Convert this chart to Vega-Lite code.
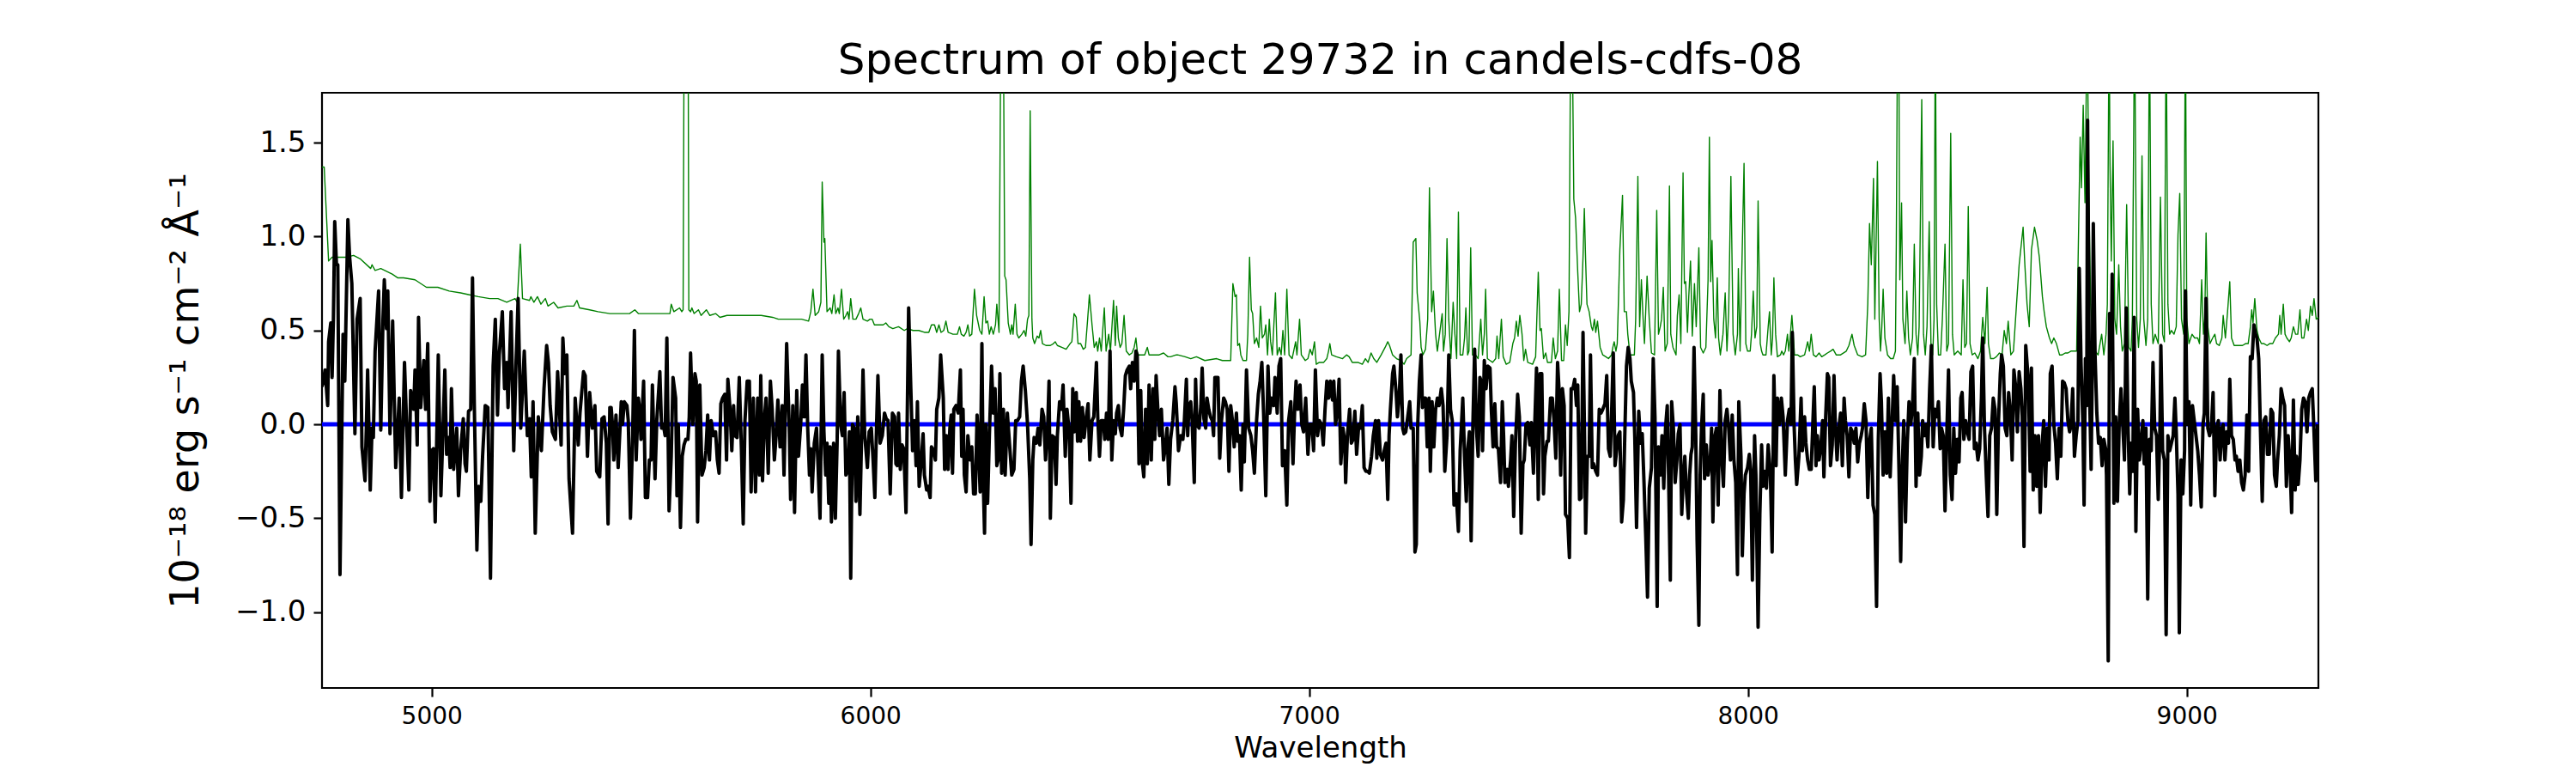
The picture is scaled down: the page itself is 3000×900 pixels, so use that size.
{
  "$schema": "https://vega.github.io/schema/vega-lite/v6.json",
  "width": 2325,
  "height": 693,
  "autosize": {"type": "none"},
  "padding": {"left": 375, "top": 108, "right": 300, "bottom": 99},
  "background": "white",
  "title": {
    "text": "Spectrum of object 29732 in candels-cdfs-08",
    "font": "DejaVu Sans",
    "fontSize": 50,
    "fontWeight": "normal",
    "color": "black",
    "anchor": "middle",
    "frame": "group",
    "baseline": "alphabetic",
    "offset": 27,
    "dy": 55
  },
  "config": {
    "font": "DejaVu Sans",
    "view": {"stroke": "black", "strokeWidth": 2.2},
    "axis": {
      "labelFont": "DejaVu Sans",
      "titleFont": "DejaVu Sans",
      "labelColor": "black",
      "titleColor": "black",
      "titleFontWeight": "normal",
      "tickColor": "black",
      "tickSize": 10,
      "tickWidth": 2.2,
      "domain": false,
      "grid": false,
      "labelPadding": 9,
      "labelFlush": false,
      "labelOverlap": false
    }
  },
  "datasets": {
    "zero": [{"w": 4750, "f": 0}, {"w": 9300, "f": 0}],
    "noise": [
      {"w":4750,"f":1.37},{"w":4755,"f":1.37},{"w":4765,"f":0.87},{"w":4773,"f":0.89},{"w":4786,"f":0.89},{"w":4805,"f":0.89},{"w":4822,"f":0.9},{"w":4838,"f":0.88},{"w":4861,"f":0.83},{"w":4864,"f":0.85},{"w":4871,"f":0.82},{"w":4884,"f":0.83},{"w":4910,"f":0.8},{"w":4923,"f":0.78},{"w":4936,"f":0.78},{"w":4962,"f":0.77},{"w":4988,"f":0.73},{"w":5014,"f":0.73},{"w":5040,"f":0.71},{"w":5066,"f":0.7},{"w":5086,"f":0.69},{"w":5106,"f":0.68},{"w":5132,"f":0.67},{"w":5151,"f":0.67},{"w":5171,"f":0.65},{"w":5190,"f":0.67},{"w":5195,"f":0.65},{"w":5202,"f":0.96},{"w":5207,"f":0.67},{"w":5223,"f":0.66},{"w":5226,"f":0.68},{"w":5233,"f":0.65},{"w":5241,"f":0.68},{"w":5249,"f":0.64},{"w":5259,"f":0.67},{"w":5265,"f":0.63},{"w":5278,"f":0.65},{"w":5288,"f":0.62},{"w":5308,"f":0.63},{"w":5324,"f":0.63},{"w":5331,"f":0.66},{"w":5337,"f":0.62},{"w":5360,"f":0.61},{"w":5379,"f":0.6},{"w":5406,"f":0.59},
      {"w":5425,"f":0.59},{"w":5451,"f":0.59},{"w":5463,"f":0.61},{"w":5471,"f":0.59},{"w":5490,"f":0.59},{"w":5516,"f":0.59},{"w":5543,"f":0.59},{"w":5546,"f":0.64},{"w":5552,"f":0.6},{"w":5565,"f":0.62},{"w":5570,"f":0.6},{"w":5573,"f":0.61},{"w":5576,"f":2.6},{"w":5580,"f":3.0},{"w":5584,"f":2.6},{"w":5586,"f":0.61},{"w":5590,"f":0.6},{"w":5593,"f":0.62},{"w":5598,"f":0.59},{"w":5608,"f":0.61},{"w":5614,"f":0.58},{"w":5626,"f":0.61},{"w":5634,"f":0.58},{"w":5647,"f":0.59},{"w":5657,"f":0.57},{"w":5673,"f":0.58},{"w":5699,"f":0.58},{"w":5725,"f":0.58},{"w":5751,"f":0.58},{"w":5777,"f":0.57},{"w":5790,"f":0.56},{"w":5817,"f":0.56},{"w":5843,"f":0.56},{"w":5859,"f":0.55},{"w":5864,"f":0.6},{"w":5869,"f":0.72},{"w":5874,"f":0.58},{"w":5882,"f":0.6},{"w":5887,"f":0.65},{"w":5890,"f":1.29},{"w":5894,"f":0.97},{"w":5896,"f":0.99},{"w":5901,"f":0.6},{"w":5908,"f":0.62},{"w":5912,"f":0.59},{"w":5917,"f":0.69},{"w":5921,"f":0.59},{"w":5926,"f":0.62},{"w":5929,"f":0.59},{"w":5934,"f":0.72},{"w":5939,"f":0.56},{"w":5944,"f":0.58},{"w":5948,"f":0.6},{"w":5951,"f":0.56},{"w":5955,"f":0.67},{"w":5960,"f":0.56},{"w":5967,"f":0.56},{"w":5973,"f":0.59},{"w":5978,"f":0.62},{"w":5983,"f":0.56},{"w":5993,"f":0.55},{"w":5999,"f":0.56},{"w":6004,"f":0.56},{"w":6009,"f":0.53},{"w":6019,"f":0.53},{"w":6029,"f":0.53},{"w":6035,"f":0.54},{"w":6042,"f":0.52},{"w":6051,"f":0.51},
      {"w":6064,"f":0.52},{"w":6077,"f":0.5},{"w":6084,"f":0.51},{"w":6097,"f":0.5},{"w":6110,"f":0.5},{"w":6123,"f":0.49},{"w":6133,"f":0.49},{"w":6139,"f":0.53},{"w":6146,"f":0.53},{"w":6151,"f":0.49},{"w":6156,"f":0.53},{"w":6161,"f":0.49},{"w":6167,"f":0.5},{"w":6172,"f":0.55},{"w":6177,"f":0.49},{"w":6188,"f":0.48},{"w":6198,"f":0.48},{"w":6203,"f":0.52},{"w":6207,"f":0.48},{"w":6213,"f":0.47},{"w":6218,"f":0.49},{"w":6222,"f":0.53},{"w":6226,"f":0.47},{"w":6231,"f":0.48},{"w":6237,"f":0.72},{"w":6242,"f":0.58},{"w":6249,"f":0.5},{"w":6254,"f":0.48},{"w":6259,"f":0.68},{"w":6263,"f":0.54},{"w":6267,"f":0.55},{"w":6271,"f":0.48},{"w":6275,"f":0.52},{"w":6280,"f":0.48},{"w":6285,"f":0.53},{"w":6288,"f":0.64},{"w":6293,"f":0.49},{"w":6297,"f":2.1},{"w":6300,"f":2.6},{"w":6303,"f":2.1},{"w":6306,"f":0.79},{"w":6309,"f":0.77},{"w":6314,"f":0.54},{"w":6319,"f":0.48},{"w":6322,"f":0.53},{"w":6325,"f":0.48},{"w":6330,"f":0.64},{"w":6334,"f":0.48},{"w":6338,"f":0.46},{"w":6345,"f":0.48},{"w":6350,"f":0.5},{"w":6354,"f":0.47},{"w":6358,"f":0.56},{"w":6361,"f":0.58},{"w":6364,"f":1.67},{"w":6368,"f":0.56},{"w":6370,"f":0.46},{"w":6374,"f":0.43},{"w":6380,"f":0.47},{"w":6384,"f":0.46},{"w":6388,"f":0.5},{"w":6392,"f":0.43},{"w":6400,"f":0.42},{"w":6410,"f":0.42},{"w":6417,"f":0.43},{"w":6421,"f":0.44},{"w":6426,"f":0.42},{"w":6436,"f":0.41},{"w":6446,"f":0.4},{"w":6455,"f":0.43},{"w":6459,"f":0.44},{"w":6464,"f":0.59},{"w":6469,"f":0.57},{"w":6473,"f":0.43},{"w":6479,"f":0.43},{"w":6485,"f":0.4},{"w":6490,"f":0.41},{"w":6495,"f":0.56},{"w":6499,"f":0.69},{"w":6505,"f":0.53},{"w":6510,"f":0.41},{"w":6515,"f":0.44},{"w":6518,"f":0.39},{"w":6522,"f":0.46},{"w":6526,"f":0.39},{"w":6533,"f":0.62},{"w":6537,"f":0.39},{"w":6543,"f":0.48},{"w":6547,"f":0.39},{"w":6554,"f":0.66},{"w":6558,"f":0.42},{"w":6561,"f":0.63},{"w":6565,"f":0.46},{"w":6569,"f":0.41},{"w":6573,"f":0.43},{"w":6578,"f":0.58},{"w":6583,"f":0.39},{"w":6590,"f":0.37},{"w":6596,"f":0.38},{"w":6601,"f":0.41},{"w":6605,"f":0.46},{"w":6609,"f":0.37},{"w":6616,"f":0.37},{"w":6625,"f":0.37},{"w":6631,"f":0.41},{"w":6635,"f":0.37},{"w":6645,"f":0.37},{"w":6658,"f":0.37},{"w":6668,"f":0.38},{"w":6678,"f":0.36},{"w":6684,"f":0.36},{"w":6697,"f":0.37},
      {"w":6700,"f":0.37},{"w":6717,"f":0.36},{"w":6730,"f":0.35},{"w":6743,"f":0.36},{"w":6762,"f":0.34},{"w":6789,"f":0.35},{"w":6802,"f":0.34},{"w":6821,"f":0.34},{"w":6826,"f":0.75},{"w":6831,"f":0.68},{"w":6834,"f":0.69},{"w":6837,"f":0.42},{"w":6841,"f":0.43},{"w":6844,"f":0.37},{"w":6849,"f":0.34},{"w":6857,"f":0.34},{"w":6860,"f":0.48},{"w":6864,"f":0.89},{"w":6868,"f":0.61},{"w":6871,"f":0.59},{"w":6875,"f":0.43},{"w":6880,"f":0.46},{"w":6885,"f":0.41},{"w":6889,"f":0.63},{"w":6893,"f":0.46},{"w":6898,"f":0.48},{"w":6901,"f":0.53},{"w":6905,"f":0.37},{"w":6909,"f":0.56},{"w":6912,"f":0.44},{"w":6916,"f":0.37},{"w":6923,"f":0.7},{"w":6927,"f":0.37},{"w":6932,"f":0.41},{"w":6936,"f":0.37},{"w":6940,"f":0.5},{"w":6944,"f":0.37},{"w":6949,"f":0.72},{"w":6954,"f":0.37},{"w":6961,"f":0.35},{"w":6969,"f":0.44},{"w":6972,"f":0.37},{"w":6978,"f":0.56},{"w":6982,"f":0.37},{"w":6991,"f":0.34},{"w":6997,"f":0.35},{"w":7002,"f":0.4},{"w":7007,"f":0.37},{"w":7012,"f":0.44},{"w":7016,"f":0.32},{"w":7023,"f":0.33},{"w":7033,"f":0.33},{"w":7040,"f":0.35},{"w":7044,"f":0.39},{"w":7047,"f":0.43},{"w":7051,"f":0.37},{"w":7062,"f":0.36},{"w":7076,"f":0.35},{"w":7085,"f":0.37},{"w":7091,"f":0.36},{"w":7098,"f":0.33},{"w":7111,"f":0.33},{"w":7121,"f":0.32},{"w":7128,"f":0.35},{"w":7134,"f":0.33},{"w":7141,"f":0.38},{"w":7147,"f":0.35},{"w":7154,"f":0.33},{"w":7164,"f":0.37},{"w":7173,"f":0.41},{"w":7179,"f":0.44},{"w":7183,"f":0.42},{"w":7190,"f":0.37},{"w":7199,"f":0.35},{"w":7209,"f":0.34},{"w":7216,"f":0.32},{"w":7222,"f":0.35},{"w":7232,"f":0.37},{"w":7237,"f":0.97},{"w":7243,"f":0.99},{"w":7246,"f":0.7},{"w":7252,"f":0.55},{"w":7255,"f":0.41},{"w":7259,"f":0.37},{"w":7265,"f":0.4},{"w":7270,"f":0.56},{"w":7274,"f":1.26},{"w":7279,"f":0.6},{"w":7283,"f":0.71},{"w":7288,"f":0.48},{"w":7292,"f":0.39},{"w":7297,"f":0.48},{"w":7303,"f":0.59},{"w":7306,"f":0.39},{"w":7310,"f":0.48},{"w":7314,"f":0.99},{"w":7318,"f":0.56},{"w":7323,"f":0.35},{"w":7328,"f":0.65},{"w":7332,"f":0.48},{"w":7336,"f":0.35},{"w":7340,"f":1.13},
      {"w":7344,"f":0.37},{"w":7350,"f":0.37},{"w":7354,"f":0.46},{"w":7357,"f":0.62},{"w":7361,"f":0.37},{"w":7364,"f":0.39},{"w":7368,"f":0.94},{"w":7372,"f":0.37},{"w":7379,"f":0.37},{"w":7385,"f":0.35},{"w":7391,"f":0.56},{"w":7395,"f":0.37},{"w":7399,"f":0.48},{"w":7402,"f":0.72},{"w":7406,"f":0.35},{"w":7412,"f":0.34},{"w":7418,"f":0.33},{"w":7425,"f":0.35},{"w":7428,"f":0.47},{"w":7432,"f":0.35},{"w":7438,"f":0.56},{"w":7442,"f":0.36},{"w":7449,"f":0.32},{"w":7457,"f":0.33},{"w":7464,"f":0.43},{"w":7468,"f":0.46},{"w":7472,"f":0.55},{"w":7476,"f":0.47},{"w":7480,"f":0.58},{"w":7485,"f":0.48},{"w":7489,"f":0.34},{"w":7493,"f":0.4},{"w":7498,"f":0.33},{"w":7509,"f":0.32},{"w":7516,"f":0.36},{"w":7522,"f":0.81},{"w":7526,"f":0.5},{"w":7529,"f":0.51},{"w":7534,"f":0.35},{"w":7539,"f":0.38},{"w":7543,"f":0.33},{"w":7552,"f":0.33},{"w":7556,"f":0.46},{"w":7561,"f":0.35},{"w":7566,"f":0.39},{"w":7570,"f":0.72},{"w":7575,"f":0.34},{"w":7580,"f":0.34},{"w":7584,"f":0.53},{"w":7588,"f":0.42},{"w":7592,"f":0.6},{"w":7596,"f":2.2},{"w":7599,"f":2.2},{"w":7603,"f":1.2},{"w":7607,"f":1.1},{"w":7612,"f":0.81},{"w":7616,"f":0.6},{"w":7620,"f":0.64},{"w":7624,"f":0.89},{"w":7627,"f":1.15},{"w":7630,"f":0.87},{"w":7633,"f":0.64},{"w":7638,"f":0.6},{"w":7643,"f":0.52},{"w":7646,"f":0.5},{"w":7650,"f":0.56},{"w":7653,"f":0.49},{"w":7657,"f":0.55},{"w":7663,"f":0.41},{"w":7669,"f":0.37},{"w":7676,"f":0.36},{"w":7682,"f":0.35},{"w":7689,"f":0.37},{"w":7692,"f":0.41},{"w":7695,"f":0.44},{"w":7699,"f":0.39},{"w":7702,"f":0.43},{"w":7708,"f":0.93},{"w":7714,"f":1.22},{"w":7718,"f":0.6},{"w":7723,"f":0.6},{"w":7726,"f":0.48},{"w":7731,"f":0.37},{"w":7741,"f":0.37},{"w":7744,"f":0.56},{"w":7749,"f":1.32},{"w":7753,"f":0.52},{"w":7757,"f":0.77},{"w":7761,"f":0.56},{"w":7764,"f":0.43},{"w":7770,"f":0.79},{"w":7775,"f":0.56},{"w":7780,"f":0.38},{"w":7787,"f":0.37},{"w":7792,"f":1.14},{"w":7796,"f":0.48},{"w":7800,"f":0.52},{"w":7803,"f":0.56},{"w":7807,"f":0.73},{"w":7811,"f":0.39},{"w":7816,"f":0.43},{"w":7821,"f":1.27},{"w":7824,"f":0.48},{"w":7829,"f":0.41},{"w":7836,"f":0.37},{"w":7839,"f":0.58},{"w":7843,"f":0.69},{"w":7847,"f":0.43},{"w":7852,"f":1.34},{"w":7855,"f":0.75},{"w":7858,"f":0.76},{"w":7862,"f":0.49},{"w":7865,"f":0.68},{"w":7869,"f":0.87},{"w":7873,"f":0.47},{"w":7878,"f":0.75},{"w":7882,"f":0.52},{"w":7888,"f":0.94},{"w":7892,"f":0.41},{"w":7898,"f":0.38},{"w":7904,"f":0.41},{"w":7909,"f":0.77},{"w":7912,"f":1.53},{"w":7915,"f":0.76},{"w":7918,"f":0.98},{"w":7922,"f":0.56},{"w":7926,"f":0.46},{"w":7930,"f":0.78},{"w":7933,"f":0.46},{"w":7937,"f":0.37},{"w":7943,"f":0.48},{"w":7948,"f":0.7},{"w":7952,"f":0.39},{"w":7956,"f":0.6},{"w":7961,"f":1.32},{"w":7966,"f":0.48},{"w":7971,"f":0.37},{"w":7976,"f":0.48},{"w":7978,"f":0.83},{"w":7982,"f":0.39},
      {"w":7991,"f":1.39},{"w":7995,"f":0.43},{"w":7999,"f":0.39},{"w":8005,"f":0.39},{"w":8008,"f":0.48},{"w":8012,"f":0.71},{"w":8016,"f":0.46},{"w":8020,"f":0.52},{"w":8023,"f":1.19},{"w":8028,"f":0.43},{"w":8031,"f":0.39},{"w":8034,"f":0.37},{"w":8041,"f":0.37},{"w":8046,"f":0.52},{"w":8049,"f":0.6},{"w":8053,"f":0.37},{"w":8056,"f":0.46},{"w":8059,"f":0.78},{"w":8063,"f":0.48},{"w":8067,"f":0.36},{"w":8074,"f":0.37},{"w":8077,"f":0.39},{"w":8081,"f":0.37},{"w":8085,"f":0.39},{"w":8090,"f":0.48},{"w":8093,"f":0.39},{"w":8096,"f":0.46},{"w":8100,"f":0.58},{"w":8103,"f":0.48},{"w":8106,"f":0.37},{"w":8113,"f":0.37},{"w":8119,"f":0.36},{"w":8129,"f":0.37},{"w":8136,"f":0.44},{"w":8140,"f":0.39},{"w":8144,"f":0.48},{"w":8149,"f":0.37},{"w":8155,"f":0.36},{"w":8162,"f":0.38},{"w":8168,"f":0.36},{"w":8175,"f":0.37},{"w":8181,"f":0.38},{"w":8188,"f":0.39},{"w":8194,"f":0.4},{"w":8201,"f":0.37},{"w":8211,"f":0.37},{"w":8224,"f":0.39},{"w":8230,"f":0.42},{"w":8237,"f":0.48},{"w":8242,"f":0.42},{"w":8250,"f":0.37},{"w":8260,"f":0.36},{"w":8268,"f":0.37},{"w":8273,"f":0.64},{"w":8277,"f":1.07},{"w":8281,"f":0.85},{"w":8286,"f":1.31},{"w":8289,"f":0.56},{"w":8292,"f":0.97},{"w":8295,"f":1.4},{"w":8299,"f":0.56},{"w":8302,"f":0.39},{"w":8305,"f":0.52},{"w":8308,"f":0.72},{"w":8312,"f":0.46},{"w":8318,"f":0.37},{"w":8325,"f":0.35},{"w":8331,"f":0.35},{"w":8336,"f":0.39},{"w":8338,"f":0.97},{"w":8341,"f":2.2},{"w":8344,"f":1.9},{"w":8346,"f":0.77},{"w":8350,"f":1.18},{"w":8353,"f":0.56},{"w":8358,"f":0.43},{"w":8362,"f":0.71},{"w":8366,"f":0.46},{"w":8370,"f":0.37},{"w":8375,"f":0.46},{"w":8379,"f":0.96},{"w":8383,"f":0.48},{"w":8387,"f":0.37},{"w":8390,"f":0.52},{"w":8396,"f":1.73},{"w":8400,"f":0.48},{"w":8404,"f":0.37},{"w":8408,"f":0.52},{"w":8413,"f":1.08},{"w":8417,"f":0.43},{"w":8421,"f":0.37},{"w":8424,"f":0.56},{"w":8427,"f":2.2},{"w":8430,"f":0.64},{"w":8434,"f":0.37},{"w":8439,"f":0.37},{"w":8443,"f":0.56},{"w":8449,"f":0.96},{"w":8453,"f":0.39},{"w":8457,"f":0.43},{"w":8462,"f":1.55},{"w":8466,"f":0.48},{"w":8470,"f":0.37},{"w":8478,"f":0.39},{"w":8486,"f":0.37},{"w":8490,"f":0.77},{"w":8494,"f":0.41},{"w":8498,"f":0.43},{"w":8502,"f":1.16},{"w":8506,"f":0.43},{"w":8511,"f":0.37},{"w":8517,"f":0.38},{"w":8524,"f":0.35},{"w":8530,"f":0.39},{"w":8535,"f":0.57},{"w":8540,"f":0.43},{"w":8545,"f":0.73},{"w":8548,"f":0.43},{"w":8553,"f":0.35},{"w":8560,"f":0.35},{"w":8566,"f":0.36},{"w":8573,"f":0.38},{"w":8579,"f":0.37},{"w":8584,"f":0.5},{"w":8589,"f":0.43},{"w":8593,"f":0.55},{"w":8599,"f":0.37},{"w":8605,"f":0.39},{"w":8612,"f":0.64},{"w":8618,"f":0.85},{"w":8627,"f":1.05},
      {"w":8631,"f":0.85},{"w":8636,"f":0.64},{"w":8641,"f":0.52},{"w":8646,"f":0.93},{"w":8653,"f":1.05},{"w":8659,"f":0.98},{"w":8664,"f":0.89},{"w":8671,"f":0.68},{"w":8675,"f":0.6},{"w":8680,"f":0.52},{"w":8687,"f":0.46},{"w":8692,"f":0.43},{"w":8697,"f":0.46},{"w":8703,"f":0.43},{"w":8710,"f":0.37},{"w":8716,"f":0.37},{"w":8723,"f":0.38},{"w":8729,"f":0.38},{"w":8736,"f":0.39},{"w":8742,"f":0.39},{"w":8749,"f":0.39},{"w":8753,"f":0.97},{"w":8757,"f":1.53},{"w":8760,"f":1.26},{"w":8764,"f":1.7},{"w":8768,"f":1.18},{"w":8773,"f":2.2},{"w":8777,"f":1.18},{"w":8781,"f":0.64},{"w":8786,"f":0.43},{"w":8791,"f":0.39},{"w":8798,"f":0.37},{"w":8806,"f":0.48},{"w":8811,"f":0.37},{"w":8816,"f":0.48},{"w":8819,"f":0.64},{"w":8823,"f":2.2},{"w":8825,"f":1.39},{"w":8828,"f":0.87},{"w":8832,"f":1.51},{"w":8836,"f":0.56},{"w":8840,"f":0.48},{"w":8845,"f":0.85},{"w":8849,"f":0.52},{"w":8853,"f":0.39},{"w":8858,"f":0.43},{"w":8863,"f":1.17},{"w":8868,"f":0.41},{"w":8873,"f":0.39},{"w":8876,"f":0.56},{"w":8881,"f":2.2},{"w":8886,"f":0.56},{"w":8890,"f":0.41},{"w":8894,"f":0.56},{"w":8898,"f":1.43},{"w":8902,"f":0.56},{"w":8907,"f":0.42},{"w":8911,"f":0.56},{"w":8915,"f":2.2},{"w":8919,"f":0.64},{"w":8923,"f":0.43},{"w":8928,"f":0.48},{"w":8935,"f":0.43},{"w":8940,"f":1.21},{"w":8945,"f":0.48},{"w":8949,"f":0.44},{"w":8953,"f":2.2},{"w":8957,"f":0.64},{"w":8961,"f":0.48},{"w":8965,"f":0.5},{"w":8971,"f":0.48},{"w":8976,"f":0.52},{"w":8980,"f":1.01},{"w":8984,"f":1.23},{"w":8988,"f":0.56},{"w":8993,"f":0.48},{"w":8997,"f":2.2},{"w":9000,"f":0.56},{"w":9005,"f":0.43},{"w":9012,"f":0.48},{"w":9018,"f":0.46},{"w":9025,"f":0.46},{"w":9029,"f":0.43},{"w":9034,"f":0.77},{"w":9038,"f":0.48},{"w":9041,"f":0.56},{"w":9044,"f":1.02},{"w":9048,"f":0.52},{"w":9053,"f":0.43},{"w":9059,"f":0.46},{"w":9064,"f":0.48},{"w":9068,"f":0.43},{"w":9074,"f":0.42},{"w":9080,"f":0.46},{"w":9083,"f":0.58},{"w":9088,"f":0.46},{"w":9093,"f":0.6},{"w":9098,"f":0.76},{"w":9102,"f":0.46},{"w":9108,"f":0.42},{"w":9114,"f":0.42},{"w":9121,"f":0.42},{"w":9127,"f":0.42},{"w":9134,"f":0.43},{"w":9140,"f":0.43},{"w":9145,"f":0.52},{"w":9148,"f":0.61},{"w":9151,"f":0.54},{"w":9155,"f":0.67},{"w":9160,"f":0.5},{"w":9164,"f":0.46},{"w":9170,"f":0.43},{"w":9176,"f":0.43},{"w":9183,"f":0.42},{"w":9189,"f":0.43},{"w":9196,"f":0.43},{"w":9202,"f":0.46},{"w":9209,"f":0.48},{"w":9212,"f":0.58},{"w":9215,"f":0.48},{"w":9220,"f":0.64},{"w":9224,"f":0.48},{"w":9228,"f":0.46},{"w":9234,"f":0.44},{"w":9238,"f":0.46},{"w":9243,"f":0.52},{"w":9248,"f":0.48},{"w":9253,"f":0.48},{"w":9258,"f":0.61},{"w":9262,"f":0.46},{"w":9267,"f":0.46},{"w":9273,"f":0.56},{"w":9277,"f":0.5},{"w":9282,"f":0.63},{"w":9286,"f":0.58},{"w":9290,"f":0.67},{"w":9295,"f":0.56},{"w":9300,"f":0.57}
    ],
    "flux": [
      {"w":4750,"f":0.2},{"w":4753,"f":0.23},{"w":4757,"f":0.29},{"w":4763,"f":0.1},{"w":4765,"f":0.44},{"w":4770,"f":0.54},{"w":4773,"f":0.25},{"w":4776,"f":0.56},{"w":4779,"f":1.08},{"w":4783,"f":0.85},{"w":4786,"f":0.85},{"w":4791,"f":-0.8},{"w":4798,"f":0.48},{"w":4802,"f":0.23},{"w":4804,"f":0.48},{"w":4809,"f":1.09},{"w":4813,"f":0.89},{"w":4818,"f":0.75},{"w":4825,"f":-0.05},{"w":4830,"f":0.56},{"w":4837,"f":0.67},{"w":4841,"f":-0.12},{"w":4848,"f":-0.3},{"w":4851,"f":-0.02},{"w":4854,"f":0.29},{"w":4860,"f":-0.35},{"w":4864,"f":-0.02},{"w":4867,"f":-0.07},{"w":4871,"f":0.39},{"w":4879,"f":0.71},{"w":4884,"f":-0.03},{"w":4889,"f":0.56},{"w":4892,"f":0.77},{"w":4897,"f":0.51},{"w":4900,"f":0.71},{"w":4905,"f":-0.05},{"w":4911,"f":0.55},{"w":4918,"f":-0.23},{"w":4926,"f":0.14},{"w":4931,"f":-0.39},{"w":4938,"f":0.33},{"w":4948,"f":-0.35},{"w":4952,"f":0.18},{"w":4959,"f":0.08},{"w":4962,"f":0.29},{"w":4967,"f":-0.11},{"w":4970,"f":0.57},{"w":4975,"f":0.09},{"w":4982,"f":0.34},{"w":4986,"f":0.08},{"w":4991,"f":0.43},{"w":4996,"f":-0.41},{"w":5000,"f":-0.14},{"w":5004,"f":-0.13},{"w":5008,"f":-0.52},{"w":5015,"f":0.37},{"w":5021,"f":-0.38},{"w":5030,"f":0.29},{"w":5034,"f":-0.16},{"w":5039,"f":-0.07},{"w":5042,"f":-0.23},{"w":5045,"f":0.19},{"w":5050,"f":-0.24},{"w":5057,"f":-0.02},{"w":5061,"f":-0.38},{"w":5066,"f":-0.14},{"w":5072,"f":0.03},{"w":5076,"f":-0.21},{"w":5079,"f":-0.25},{"w":5084,"f":0.07},{"w":5089,"f":0.08},{"w":5093,"f":0.78},{"w":5097,"f":0.12},{"w":5103,"f":-0.67},{"w":5107,"f":-0.33},{"w":5112,"f":-0.41},{"w":5116,"f":-0.17},{"w":5122,"f":0.1},{"w":5128,"f":0.09},{"w":5134,"f":-0.82},{"w":5140,"f":0.31},{"w":5145,"f":0.56},{"w":5150,"f":0.05},{"w":5154,"f":0.37},{"w":5161,"f":0.6},{"w":5166,"f":0.19},{"w":5171,"f":0.33},{"w":5174,"f":0.09},{"w":5181,"f":0.6},{"w":5187,"f":-0.14},{"w":5192,"f":0.31},{"w":5197,"f":0.67},{"w":5203,"f":-0.02},{"w":5211,"f":0.39},{"w":5218,"f":-0.06},{"w":5223,"f":0.03},{"w":5227,"f":-0.28},{"w":5231,"f":0.12},{"w":5236,"f":-0.58},{"w":5243,"f":0.04},{"w":5250,"f":-0.14},{"w":5256,"f":0.19},{"w":5262,"f":0.42},{"w":5266,"f":0.33},{"w":5270,"f":0.1},{"w":5275,"f":-0.04},{"w":5282,"f":-0.08},{"w":5287,"f":0.28},{"w":5295,"f":-0.11},{"w":5299,"f":0.46},{"w":5303,"f":0.27},{"w":5308,"f":0.37},{"w":5313,"f":-0.29},{"w":5321,"f":-0.58},{"w":5327,"f":0.14},{"w":5334,"f":-0.11},{"w":5338,"f":0.06},{"w":5346,"f":0.28},{"w":5350,"f":0.26},{"w":5355,"f":-0.17},{"w":5360,"f":0.17},{"w":5366,"f":-0.02},{"w":5372,"f":0.1},{"w":5376,"f":-0.25},{"w":5383,"f":-0.28},{"w":5388,"f":0.03},{"w":5393,"f":0.04},{"w":5398,"f":-0.1},{"w":5402,"f":-0.53},{"w":5406,"f":0.09},
      {"w":5409,"f":0.09},{"w":5412,"f":0},{"w":5415,"f":-0.19},{"w":5420,"f":0.05},{"w":5425,"f":-0.23},{"w":5432,"f":0.12},{"w":5435,"f":0},{"w":5439,"f":0.12},{"w":5445,"f":0.1},{"w":5448,"f":0.02},{"w":5453,"f":-0.5},{"w":5458,"f":-0.06},{"w":5462,"f":0.5},{"w":5466,"f":-0.19},{"w":5471,"f":0.14},{"w":5474,"f":0.08},{"w":5477,"f":-0.08},{"w":5483,"f":0.23},{"w":5487,"f":-0.39},{"w":5492,"f":-0.39},{"w":5496,"f":-0.19},{"w":5500,"f":-0.19},{"w":5503,"f":0.21},{"w":5509,"f":-0.29},{"w":5513,"f":0.02},{"w":5520,"f":0.28},{"w":5524,"f":-0.02},{"w":5528,"f":0},{"w":5532,"f":-0.06},{"w":5536,"f":0.46},{"w":5541,"f":-0.46},{"w":5546,"f":-0.17},{"w":5550,"f":0.25},{"w":5556,"f":0.14},{"w":5559,"f":-0.38},{"w":5562,"f":0},{"w":5567,"f":-0.55},{"w":5571,"f":-0.17},{"w":5575,"f":-0.11},{"w":5579,"f":-0.08},{"w":5584,"f":-0.08},{"w":5587,"f":0.04},{"w":5590,"f":0.38},{"w":5595,"f":0},{"w":5600,"f":0.27},{"w":5603,"f":0.23},{"w":5606,"f":-0.52},{"w":5611,"f":0.21},{"w":5616,"f":-0.27},{"w":5621,"f":-0.23},{"w":5625,"f":-0.14},{"w":5629,"f":0.05},{"w":5633,"f":-0.19},{"w":5637,"f":0.02},{"w":5642,"f":-0.06},{"w":5647,"f":-0.04},{"w":5651,"f":-0.19},{"w":5655,"f":-0.26},{"w":5659,"f":0.11},{"w":5663,"f":0.14},{"w":5668,"f":0.16},{"w":5672,"f":-0.19},{"w":5675,"f":0.24},{"w":5680,"f":0.08},{"w":5684,"f":-0.14},{"w":5688,"f":0.1},{"w":5691,"f":-0.06},{"w":5696,"f":-0.07},{"w":5701,"f":0.25},{"w":5706,"f":-0.14},{"w":5710,"f":-0.53},{"w":5714,"f":0.02},{"w":5719,"f":0.23},{"w":5724,"f":0.23},{"w":5728,"f":-0.36},{"w":5733,"f":0.14},{"w":5738,"f":-0.36},{"w":5743,"f":0.14},{"w":5747,"f":-0.27},{"w":5750,"f":0.26},{"w":5754,"f":-0.3},{"w":5758,"f":0.02},{"w":5762,"f":0.14},{"w":5767,"f":-0.26},{"w":5772,"f":0.23},{"w":5776,"f":0.08},{"w":5781,"f":-0.19},{"w":5785,"f":-0.06},{"w":5789,"f":0.13},{"w":5794,"f":-0.12},{"w":5799,"f":0.1},{"w":5803,"f":-0.27},{"w":5809,"f":0.43},{"w":5815,"f":-0.02},{"w":5818,"f":-0.4},{"w":5823,"f":0.1},{"w":5827,"f":-0.47},{"w":5832,"f":0.18},{"w":5836,"f":-0.17},{"w":5841,"f":0},{"w":5845,"f":0.21},{"w":5849,"f":0.04},{"w":5853,"f":0.37},{"w":5857,"f":-0.02},{"w":5861,"f":-0.27},{"w":5864,"f":-0.13},{"w":5867,"f":-0.36},{"w":5872,"f":-0.1},{"w":5877,"f":-0.02},{"w":5880,"f":-0.19},{"w":5885,"f":-0.5},{"w":5890,"f":0.37},{"w":5894,"f":-0.04},{"w":5898,"f":-0.27},{"w":5901,"f":-0.1},{"w":5905,"f":-0.42},{"w":5908,"f":-0.12},{"w":5911,"f":-0.52},{"w":5916,"f":-0.1},{"w":5920,"f":-0.5},{"w":5924,"f":-0.1},{"w":5927,"f":0.39},{"w":5932,"f":0},{"w":5936,"f":-0.06},{"w":5940,"f":0.17},{"w":5944,"f":-0.27},{"w":5949,"f":-0.24},{"w":5952,"f":-0.04},{"w":5955,"f":-0.82},{"w":5959,"f":0},{"w":5963,"f":-0.02},{"w":5967,"f":-0.41},{"w":5971,"f":0.04},{"w":5976,"f":-0.48},{"w":5980,"f":-0.04},{"w":5983,"f":0.29},{"w":5987,"f":-0.06},{"w":5993,"f":-0.23},{"w":5997,"f":-0.04},{"w":6002,"f":-0.02},{"w":6006,"f":-0.19},{"w":6010,"f":-0.39},{"w":6014,"f":0},{"w":6017,"f":0.26},{"w":6022,"f":-0.1},{"w":6027,"f":-0.06},{"w":6032,"f":0.06},{"w":6036,"f":0.03},{"w":6040,"f":0.02},{"w":6045,"f":-0.37},{"w":6050,"f":0.06},
      {"w":6055,"f":0.04},{"w":6058,"f":-0.21},{"w":6061,"f":-0.22},{"w":6064,"f":0.06},{"w":6068,"f":-0.24},{"w":6072,"f":-0.11},{"w":6076,"f":-0.13},{"w":6081,"f":-0.47},{"w":6087,"f":0.62},{"w":6092,"f":0.19},{"w":6096,"f":-0.14},{"w":6100,"f":0.02},{"w":6104,"f":-0.22},{"w":6107,"f":0.12},{"w":6111,"f":-0.33},{"w":6115,"f":-0.22},{"w":6120,"f":-0.05},{"w":6123,"f":-0.27},{"w":6128,"f":-0.35},{"w":6131,"f":-0.33},{"w":6136,"f":-0.39},{"w":6139,"f":-0.12},{"w":6144,"f":-0.14},{"w":6148,"f":-0.19},{"w":6151,"f":0.08},{"w":6156,"f":0.14},{"w":6160,"f":0.37},{"w":6166,"f":0.14},{"w":6169,"f":-0.24},{"w":6173,"f":-0.06},{"w":6177,"f":-0.24},{"w":6181,"f":-0.02},{"w":6184,"f":0.05},{"w":6187,"f":-0.26},{"w":6190,"f":0.08},{"w":6195,"f":0.1},{"w":6200,"f":0.06},{"w":6205,"f":0.29},{"w":6208,"f":-0.17},{"w":6211,"f":0.08},{"w":6214,"f":-0.27},{"w":6218,"f":-0.36},{"w":6222,"f":-0.06},{"w":6227,"f":-0.19},{"w":6231,"f":-0.12},{"w":6235,"f":-0.37},{"w":6239,"f":-0.37},{"w":6243,"f":0.05},{"w":6247,"f":-0.17},{"w":6250,"f":-0.36},{"w":6254,"f":0.43},{"w":6257,"f":-0.29},{"w":6260,"f":-0.58},{"w":6263,"f":0},{"w":6267,"f":-0.42},{"w":6271,"f":-0.06},{"w":6276,"f":0.31},{"w":6280,"f":0.06},{"w":6284,"f":0.19},{"w":6288,"f":-0.22},{"w":6291,"f":-0.19},{"w":6295,"f":0.27},{"w":6299,"f":-0.26},{"w":6303,"f":0.08},{"w":6307,"f":-0.27},{"w":6312,"f":0.06},{"w":6318,"f":-0.14},{"w":6322,"f":-0.27},{"w":6327,"f":-0.24},{"w":6331,"f":0.02},{"w":6335,"f":0.02},{"w":6340,"f":0.04},{"w":6344,"f":0.23},{"w":6348,"f":0.31},{"w":6353,"f":0.18},{"w":6358,"f":0},{"w":6363,"f":-0.29},{"w":6366,"f":-0.64},{"w":6370,"f":-0.19},{"w":6373,"f":-0.07},{"w":6378,"f":-0.1},{"w":6382,"f":-0.02},{"w":6386,"f":-0.11},{"w":6391,"f":0.08},{"w":6395,"f":0.04},{"w":6399,"f":-0.19},{"w":6404,"f":0},{"w":6407,"f":0.23},{"w":6410,"f":-0.5},{"w":6414,"f":-0.06},{"w":6419,"f":-0.07},{"w":6423,"f":-0.32},{"w":6426,"f":-0.06},{"w":6431,"f":0.12},{"w":6435,"f":0.08},{"w":6439,"f":0.21},{"w":6444,"f":-0.17},{"w":6448,"f":0.08},{"w":6453,"f":-0.04},{"w":6457,"f":-0.42},{"w":6461,"f":0.19},{"w":6464,"f":-0.04},{"w":6469,"f":0.17},{"w":6472,"f":-0.09},{"w":6475,"f":0.12},{"w":6479,"f":-0.09},{"w":6483,"f":0.09},{"w":6487,"f":-0.07},{"w":6492,"f":0.04},{"w":6496,"f":0.11},{"w":6500,"f":-0.19},{"w":6505,"f":0.02},{"w":6509,"f":0.04},{"w":6515,"f":0.33},{"w":6518,"f":0.04},{"w":6522,"f":-0.17},{"w":6526,"f":0.02},{"w":6531,"f":0.02},{"w":6534,"f":-0.08},{"w":6538,"f":0.06},{"w":6542,"f":-0.08},{"w":6546,"f":0.39},{"w":6550,"f":-0.19},{"w":6554,"f":0.02},{"w":6558,"f":-0.05},{"w":6561,"f":0.06},{"w":6565,"f":0.1},{"w":6569,"f":-0.02},{"w":6573,"f":-0.06},{"w":6577,"f":0.08},{"w":6581,"f":0.26},{"w":6585,"f":0.29},{"w":6590,"f":0.31},{"w":6593,"f":0.19},{"w":6597,"f":0.33},{"w":6601,"f":0.23},{"w":6605,"f":0.39},{"w":6608,"f":0.37},{"w":6612,"f":-0.21},{"w":6616,"f":0.18},{"w":6619,"f":-0.19},{"w":6623,"f":-0.28},{"w":6627,"f":0.08},{"w":6631,"f":-0.21},{"w":6635,"f":0.21},{"w":6640,"f":-0.19},{"w":6644,"f":0.19},{"w":6648,"f":-0.08},{"w":6651,"f":0.26},{"w":6655,"f":0.08},{"w":6659,"f":-0.06},{"w":6663,"f":0.08},{"w":6668,"f":-0.19},{"w":6672,"f":-0.12},{"w":6676,"f":-0.02},{"w":6680,"f":-0.32},{"w":6684,"f":-0.08},{"w":6689,"f":0.02},{"w":6694,"f":0.2},
      {"w":6697,"f":0.11},{"w":6702,"f":-0.14},{"w":6707,"f":-0.06},{"w":6712,"f":-0.08},{"w":6715,"f":0},{"w":6720,"f":0.24},{"w":6723,"f":-0.06},{"w":6726,"f":0.1},{"w":6730,"f":0.12},{"w":6733,"f":0.02},{"w":6738,"f":-0.31},{"w":6741,"f":0.24},{"w":6744,"f":0},{"w":6749,"f":-0.02},{"w":6753,"f":0.1},{"w":6756,"f":0.3},{"w":6760,"f":0.03},{"w":6764,"f":-0.02},{"w":6767,"f":0.14},{"w":6771,"f":0.08},{"w":6775,"f":0.04},{"w":6779,"f":0.02},{"w":6782,"f":-0.06},{"w":6785,"f":0.25},{"w":6792,"f":0.25},{"w":6796,"f":-0.18},{"w":6800,"f":0.02},{"w":6805,"f":0.14},{"w":6809,"f":0.12},{"w":6813,"f":0.08},{"w":6817,"f":-0.25},{"w":6821,"f":0.1},{"w":6825,"f":0.02},{"w":6829,"f":-0.12},{"w":6834,"f":0.06},{"w":6837,"f":-0.09},{"w":6841,"f":-0.06},{"w":6845,"f":-0.35},{"w":6849,"f":0},{"w":6852,"f":-0.2},{"w":6857,"f":0.29},{"w":6862,"f":-0.02},{"w":6867,"f":-0.06},{"w":6871,"f":-0.14},{"w":6875,"f":-0.26},{"w":6880,"f":0.02},{"w":6884,"f":0.16},{"w":6888,"f":0.23},{"w":6892,"f":0.33},{"w":6896,"f":0.06},{"w":6901,"f":-0.38},{"w":6906,"f":0.31},{"w":6910,"f":0.06},{"w":6914,"f":0.14},{"w":6919,"f":0.1},{"w":6922,"f":0.25},{"w":6927,"f":0.06},{"w":6931,"f":0.31},{"w":6935,"f":0.35},{"w":6939,"f":-0.22},{"w":6944,"f":-0.14},{"w":6949,"f":-0.43},{"w":6953,"f":0.02},{"w":6958,"f":0.12},{"w":6963,"f":-0.21},{"w":6967,"f":0.09},{"w":6970,"f":0.23},{"w":6974,"f":0.08},{"w":6979,"f":0.21},{"w":6983,"f":0},{"w":6987,"f":-0.04},{"w":6992,"f":0.14},{"w":6997,"f":-0.16},{"w":7001,"f":0},{"w":7006,"f":0},{"w":7010,"f":-0.14},{"w":7014,"f":0.29},{"w":7019,"f":-0.06},{"w":7023,"f":0.02},{"w":7028,"f":0},{"w":7032,"f":-0.11},{"w":7036,"f":0.08},{"w":7040,"f":0.23},{"w":7044,"f":0.14},{"w":7048,"f":0.23},{"w":7053,"f":0.13},{"w":7056,"f":0.23},{"w":7060,"f":0},{"w":7064,"f":0.07},{"w":7068,"f":0.24},{"w":7072,"f":-0.21},{"w":7077,"f":-0.02},{"w":7081,"f":-0.1},{"w":7083,"f":-0.31},{"w":7087,"f":-0.06},{"w":7092,"f":0.08},{"w":7096,"f":-0.1},{"w":7100,"f":-0.08},{"w":7104,"f":0.07},{"w":7108,"f":-0.16},{"w":7113,"f":0},{"w":7117,"f":-0.02},{"w":7121,"f":0.1},{"w":7125,"f":-0.23},{"w":7129,"f":-0.25},{"w":7133,"f":-0.25},{"w":7137,"f":-0.26},{"w":7142,"f":-0.17},{"w":7146,"f":-0.06},{"w":7151,"f":0.02},{"w":7154,"f":-0.18},{"w":7158,"f":0.02},{"w":7162,"f":-0.16},{"w":7167,"f":-0.19},{"w":7171,"f":-0.14},{"w":7175,"f":-0.1},{"w":7179,"f":-0.4},{"w":7182,"f":-0.06},{"w":7185,"f":0.08},{"w":7190,"f":0.27},{"w":7193,"f":0.31},{"w":7198,"f":0.17},{"w":7201,"f":0.04},{"w":7205,"f":0.14},{"w":7209,"f":0.37},{"w":7213,"f":-0.02},{"w":7216,"f":-0.05},{"w":7220,"f":-0.04},{"w":7224,"f":0.03},{"w":7229,"f":0.12},{"w":7232,"f":-0.02},{"w":7237,"f":-0.02},{"w":7241,"f":-0.68},{"w":7244,"f":-0.64},{"w":7247,"f":-0.02},{"w":7251,"f":0.23},{"w":7255,"f":0.37},{"w":7258,"f":0.09},{"w":7261,"f":0.14},{"w":7265,"f":0.14},{"w":7269,"f":-0.12},{"w":7273,"f":0.14},{"w":7276,"f":-0.25},{"w":7280,"f":0.12},{"w":7284,"f":-0.12},{"w":7288,"f":0.08},{"w":7292,"f":0.14},{"w":7296,"f":0.1},{"w":7301,"f":0.19},{"w":7305,"f":0.1},{"w":7309,"f":-0.25},{"w":7314,"f":-0.06},{"w":7318,"f":0.37},{"w":7322,"f":0.08},{"w":7326,"f":0.02},{"w":7330,"f":-0.43},{"w":7335,"f":-0.37},{"w":7340,"f":-0.57},
      {"w":7344,"f":-0.14},{"w":7350,"f":0.14},{"w":7354,"f":-0.17},{"w":7358,"f":-0.41},{"w":7361,"f":-0.14},{"w":7365,"f":-0.04},{"w":7369,"f":-0.62},{"w":7373,"f":0},{"w":7377,"f":0.4},{"w":7381,"f":-0.02},{"w":7385,"f":-0.17},{"w":7389,"f":0.25},{"w":7392,"f":0.23},{"w":7395,"f":-0.14},{"w":7399,"f":0.34},{"w":7403,"f":0.19},{"w":7407,"f":0.31},{"w":7412,"f":0.3},{"w":7415,"f":0.08},{"w":7419,"f":-0.12},{"w":7423,"f":0.11},{"w":7427,"f":-0.12},{"w":7431,"f":-0.13},{"w":7436,"f":-0.31},{"w":7440,"f":0.12},{"w":7443,"f":-0.06},{"w":7446,"f":-0.31},{"w":7451,"f":-0.24},{"w":7454,"f":-0.33},{"w":7459,"f":-0.19},{"w":7462,"f":-0.06},{"w":7466,"f":-0.49},{"w":7470,"f":-0.1},{"w":7475,"f":0.16},{"w":7479,"f":0.04},{"w":7483,"f":-0.58},{"w":7487,"f":-0.21},{"w":7490,"f":-0.19},{"w":7494,"f":0},{"w":7498,"f":0.01},{"w":7503,"f":-0.11},{"w":7506,"f":0.01},{"w":7511,"f":-0.26},{"w":7514,"f":0},{"w":7518,"f":0.3},{"w":7522,"f":-0.4},{"w":7526,"f":0.27},{"w":7530,"f":0.27},{"w":7534,"f":-0.37},{"w":7537,"f":-0.17},{"w":7542,"f":-0.09},{"w":7545,"f":-0.09},{"w":7550,"f":0.14},{"w":7554,"f":0.14},{"w":7558,"f":0.02},{"w":7562,"f":-0.18},{"w":7566,"f":0.33},{"w":7569,"f":0.2},{"w":7573,"f":-0.27},{"w":7577,"f":0.19},{"w":7581,"f":0.1},{"w":7584,"f":-0.48},{"w":7589,"f":-0.5},{"w":7593,"f":-0.71},{"w":7597,"f":0.19},{"w":7601,"f":0.19},{"w":7605,"f":0.24},{"w":7609,"f":0.1},{"w":7612,"f":0.21},{"w":7616,"f":-0.4},{"w":7620,"f":-0.39},{"w":7624,"f":0.49},{"w":7627,"f":0.02},{"w":7630,"f":-0.58},{"w":7634,"f":-0.17},{"w":7638,"f":-0.17},{"w":7641,"f":0.37},{"w":7645,"f":-0.23},{"w":7648,"f":-0.21},{"w":7653,"f":-0.25},{"w":7657,"f":-0.27},{"w":7661,"f":0.08},{"w":7665,"f":0.06},{"w":7669,"f":0.08},{"w":7674,"f":0.11},{"w":7678,"f":0.26},{"w":7682,"f":-0.13},{"w":7686,"f":-0.17},{"w":7689,"f":0.05},{"w":7693,"f":0.38},{"w":7697,"f":-0.22},{"w":7701,"f":-0.13},{"w":7704,"f":-0.06},{"w":7708,"f":-0.04},{"w":7712,"f":-0.52},{"w":7716,"f":-0.4},{"w":7719,"f":-0.08},{"w":7723,"f":0.31},{"w":7727,"f":0.41},{"w":7731,"f":0.35},{"w":7734,"f":0.23},{"w":7739,"f":0.17},{"w":7742,"f":-0.07},{"w":7746,"f":-0.55},{"w":7751,"f":0.07},{"w":7755,"f":-0.1},{"w":7759,"f":-0.05},{"w":7763,"f":-0.31},{"w":7767,"f":-0.6},{"w":7771,"f":-0.92},{"w":7775,"f":-0.34},{"w":7780,"f":-0.23},{"w":7784,"f":0.35},{"w":7788,"f":0.04},{"w":7793,"f":-0.97},{"w":7796,"f":-0.12},{"w":7800,"f":-0.27},{"w":7804,"f":-0.06},{"w":7808,"f":-0.34},{"w":7812,"f":-0.02},{"w":7816,"f":0.1},{"w":7819,"f":-0.27},{"w":7823,"f":-0.83},{"w":7826,"f":0.12},{"w":7830,"f":-0.02},{"w":7834,"f":-0.31},{"w":7838,"f":-0.19},{"w":7841,"f":-0.05},{"w":7845,"f":0},{"w":7849,"f":-0.48},{"w":7852,"f":-0.31},{"w":7856,"f":-0.17},{"w":7860,"f":-0.37},{"w":7864,"f":-0.5},{"w":7867,"f":-0.27},{"w":7870,"f":-0.16},{"w":7873,"f":-0.12},{"w":7877,"f":0.41},{"w":7881,"f":-0.06},{"w":7884,"f":-0.62},{"w":7888,"f":-1.07},{"w":7891,"f":-0.27},{"w":7894,"f":-0.02},{"w":7898,"f":0.16},{"w":7901,"f":-0.29},{"w":7905,"f":-0.11},{"w":7909,"f":-0.27},{"w":7914,"f":-0.19},{"w":7917,"f":-0.02},{"w":7920,"f":-0.52},{"w":7924,"f":-0.07},{"w":7928,"f":-0.02},{"w":7932,"f":-0.43},{"w":7936,"f":0.18},{"w":7940,"f":-0.17},{"w":7944,"f":-0.33},{"w":7948,"f":0.02},{"w":7952,"f":0.08},{"w":7956,"f":-0.02},{"w":7960,"f":-0.19},{"w":7964,"f":0.05},{"w":7968,"f":-0.19},{"w":7972,"f":-0.31},{"w":7976,"f":-0.8},{"w":7979,"f":0.12},{"w":7984,"f":-0.17},{"w":7987,"f":-0.7},
      {"w":7991,"f":-0.37},{"w":7994,"f":-0.27},{"w":7999,"f":-0.23},{"w":8003,"f":-0.16},{"w":8006,"f":-0.24},{"w":8010,"f":-0.83},{"w":8015,"f":-0.06},{"w":8018,"f":-0.27},{"w":8023,"f":-1.08},{"w":8027,"f":-0.48},{"w":8031,"f":-0.11},{"w":8034,"f":-0.33},{"w":8038,"f":-0.25},{"w":8042,"f":-0.34},{"w":8046,"f":-0.11},{"w":8051,"f":-0.27},{"w":8055,"f":-0.68},{"w":8059,"f":0.26},{"w":8064,"f":-0.22},{"w":8067,"f":0.14},{"w":8072,"f":0},{"w":8076,"f":0.14},{"w":8080,"f":0.04},{"w":8085,"f":-0.27},{"w":8090,"f":0.02},{"w":8094,"f":0.08},{"w":8098,"f":0},{"w":8101,"f":0.49},{"w":8105,"f":0},{"w":8108,"f":-0.19},{"w":8111,"f":-0.32},{"w":8116,"f":-0.17},{"w":8121,"f":0.14},{"w":8124,"f":-0.14},{"w":8129,"f":0.04},{"w":8132,"f":-0.1},{"w":8136,"f":-0.19},{"w":8140,"f":-0.24},{"w":8144,"f":-0.24},{"w":8148,"f":0.02},{"w":8151,"f":0.2},{"w":8155,"f":-0.22},{"w":8158,"f":-0.06},{"w":8162,"f":-0.19},{"w":8166,"f":-0.12},{"w":8170,"f":0.02},{"w":8173,"f":-0.28},{"w":8177,"f":0.04},{"w":8181,"f":0.27},{"w":8184,"f":0.25},{"w":8188,"f":-0.22},{"w":8192,"f":-0.11},{"w":8196,"f":0.26},{"w":8199,"f":0},{"w":8203,"f":-0.19},{"w":8207,"f":-0.02},{"w":8211,"f":0.06},{"w":8215,"f":-0.22},{"w":8219,"f":0.14},{"w":8222,"f":0.02},{"w":8226,"f":-0.06},{"w":8230,"f":-0.28},{"w":8234,"f":-0.02},{"w":8238,"f":-0.04},{"w":8242,"f":-0.1},{"w":8246,"f":-0.02},{"w":8250,"f":-0.2},{"w":8254,"f":-0.1},{"w":8258,"f":-0.06},{"w":8261,"f":-0.02},{"w":8265,"f":0.11},{"w":8269,"f":0.02},{"w":8273,"f":-0.39},{"w":8277,"f":-0.09},{"w":8281,"f":-0.02},{"w":8285,"f":-0.43},{"w":8289,"f":-0.48},{"w":8293,"f":-0.97},{"w":8297,"f":-0.08},{"w":8301,"f":0.27},{"w":8304,"f":0.12},{"w":8308,"f":-0.27},{"w":8312,"f":-0.04},{"w":8316,"f":-0.26},{"w":8320,"f":0.14},{"w":8324,"f":-0.28},{"w":8328,"f":-0.02},{"w":8332,"f":0.26},{"w":8336,"f":0.02},{"w":8340,"f":0.2},{"w":8344,"f":-0.23},{"w":8348,"f":-0.73},{"w":8351,"f":-0.27},{"w":8355,"f":0.02},{"w":8359,"f":-0.52},{"w":8363,"f":-0.1},{"w":8367,"f":0.12},{"w":8371,"f":0},{"w":8375,"f":0.1},{"w":8379,"f":0.35},{"w":8383,"f":-0.33},{"w":8387,"f":0.06},{"w":8391,"f":-0.27},{"w":8395,"f":-0.17},{"w":8398,"f":0.02},{"w":8402,"f":-0.06},{"w":8406,"f":0},{"w":8410,"f":-0.12},{"w":8414,"f":0.19},{"w":8418,"f":0.42},{"w":8422,"f":-0.12},{"w":8426,"f":0.08},{"w":8430,"f":0.04},{"w":8434,"f":0.12},{"w":8438,"f":-0.13},{"w":8441,"f":-0.02},{"w":8445,"f":-0.06},{"w":8449,"f":-0.46},{"w":8453,"f":-0.06},{"w":8457,"f":0.29},{"w":8461,"f":-0.27},{"w":8465,"f":-0.4},{"w":8469,"f":-0.02},{"w":8473,"f":-0.26},{"w":8477,"f":-0.08},{"w":8481,"f":-0.2},{"w":8485,"f":0.14},{"w":8488,"f":0.17},{"w":8492,"f":-0.08},{"w":8496,"f":0.02},{"w":8500,"f":-0.04},{"w":8504,"f":-0.08},{"w":8508,"f":0.28},{"w":8512,"f":0.31},{"w":8516,"f":-0.13},{"w":8520,"f":-0.1},{"w":8524,"f":-0.19},{"w":8528,"f":-0.13},{"w":8532,"f":0.14},{"w":8535,"f":0.46},{"w":8539,"f":-0.02},{"w":8543,"f":-0.27},{"w":8547,"f":-0.49},{"w":8551,"f":-0.06},{"w":8555,"f":-0.02},{"w":8559,"f":0.14},{"w":8563,"f":0.08},{"w":8567,"f":-0.48},{"w":8571,"f":0.02},{"w":8575,"f":0.27},{"w":8578,"f":0.37},{"w":8582,"f":0.31},{"w":8586,"f":-0.02},{"w":8590,"f":-0.06},{"w":8594,"f":0.17},{"w":8598,"f":0.06},{"w":8602,"f":-0.19},{"w":8606,"f":0.29},{"w":8610,"f":0.2},{"w":8614,"f":-0.04},{"w":8618,"f":0.28},{"w":8622,"f":0.19},{"w":8625,"f":0.04},{"w":8629,"f":-0.65},{"w":8633,"f":0.42},
      {"w":8639,"f":0.23},{"w":8643,"f":-0.25},{"w":8646,"f":0.3},{"w":8650,"f":-0.35},{"w":8654,"f":-0.06},{"w":8658,"f":-0.33},{"w":8662,"f":-0.06},{"w":8666,"f":-0.47},{"w":8670,"f":-0.12},{"w":8674,"f":0.02},{"w":8678,"f":-0.33},{"w":8682,"f":-0.02},{"w":8686,"f":-0.19},{"w":8689,"f":0.27},{"w":8693,"f":0.31},{"w":8697,"f":0},{"w":8701,"f":-0.1},{"w":8705,"f":-0.29},{"w":8709,"f":-0.02},{"w":8713,"f":-0.17},{"w":8717,"f":0.23},{"w":8721,"f":0.22},{"w":8725,"f":0.19},{"w":8729,"f":0.02},{"w":8733,"f":-0.04},{"w":8736,"f":-0.01},{"w":8740,"f":0.19},{"w":8744,"f":-0.17},{"w":8748,"f":-0.06},{"w":8752,"f":0.02},{"w":8755,"f":0.83},{"w":8759,"f":0.33},{"w":8763,"f":0.02},{"w":8766,"f":-0.43},{"w":8769,"f":0.35},{"w":8772,"f":0.1},{"w":8774,"f":1.62},{"w":8778,"f":0.23},{"w":8782,"f":-0.24},{"w":8785,"f":0.35},{"w":8787,"f":1.07},{"w":8791,"f":0.37},{"w":8795,"f":0.06},{"w":8799,"f":-0.1},{"w":8803,"f":-0.07},{"w":8807,"f":-0.22},{"w":8811,"f":-0.08},{"w":8815,"f":-0.13},{"w":8817,"f":-0.27},{"w":8821,"f":-1.26},{"w":8824,"f":0.59},{"w":8828,"f":0.35},{"w":8830,"f":0.8},{"w":8834,"f":-0.42},{"w":8838,"f":0.04},{"w":8842,"f":-0.41},{"w":8846,"f":0},{"w":8850,"f":0.19},{"w":8854,"f":0},{"w":8858,"f":-0.19},{"w":8862,"f":0.62},{"w":8866,"f":0},{"w":8870,"f":-0.37},{"w":8873,"f":-0.1},{"w":8877,"f":-0.25},{"w":8880,"f":0.57},{"w":8884,"f":-0.57},{"w":8888,"f":0.08},{"w":8892,"f":-0.19},{"w":8896,"f":-0.1},{"w":8900,"f":0.02},{"w":8903,"f":-0.21},{"w":8907,"f":-0.02},{"w":8911,"f":-0.93},{"w":8915,"f":-0.08},{"w":8919,"f":-0.14},{"w":8923,"f":0.33},{"w":8927,"f":-0.02},{"w":8931,"f":-0.06},{"w":8935,"f":-0.4},{"w":8939,"f":0},{"w":8941,"f":0.42},{"w":8945,"f":-0.14},{"w":8949,"f":-0.19},{"w":8953,"f":-1.12},{"w":8957,"f":-0.06},{"w":8961,"f":-0.14},{"w":8965,"f":-0.1},{"w":8969,"f":-0.06},{"w":8973,"f":0.14},{"w":8976,"f":-0.04},{"w":8980,"f":-0.37},{"w":8983,"f":-1.11},{"w":8987,"f":-0.19},{"w":8991,"f":-0.37},{"w":8995,"f":-0.14},{"w":8997,"f":0.71},{"w":9001,"f":0},{"w":9005,"f":0.12},{"w":9009,"f":-0.43},{"w":9013,"f":0.1},{"w":9017,"f":0.02},{"w":9021,"f":-0.06},{"w":9025,"f":-0.14},{"w":9029,"f":-0.27},{"w":9033,"f":-0.44},{"w":9037,"f":0},{"w":9040,"f":0.06},{"w":9044,"f":0.67},{"w":9048,"f":-0.02},{"w":9052,"f":-0.06},{"w":9056,"f":-0.02},{"w":9060,"f":0.17},{"w":9064,"f":-0.38},{"w":9068,"f":-0.02},{"w":9072,"f":0.02},{"w":9076,"f":-0.19},{"w":9080,"f":-0.02},{"w":9083,"f":0},{"w":9087,"f":-0.19},{"w":9091,"f":-0.04},{"w":9095,"f":-0.1},{"w":9098,"f":0.24},{"w":9102,"f":-0.06},{"w":9106,"f":-0.08},{"w":9110,"f":-0.19},{"w":9113,"f":-0.17},{"w":9117,"f":-0.25},{"w":9121,"f":-0.19},{"w":9125,"f":-0.31},{"w":9129,"f":-0.35},{"w":9133,"f":-0.27},{"w":9137,"f":0.05},{"w":9141,"f":-0.25},{"w":9145,"f":0.36},{"w":9149,"f":0.35},{"w":9153,"f":0.53},{"w":9157,"f":0.48},{"w":9160,"f":0.46},{"w":9164,"f":0.35},{"w":9168,"f":-0.04},{"w":9172,"f":-0.41},{"w":9176,"f":0.02},{"w":9180,"f":0.04},{"w":9184,"f":-0.16},{"w":9188,"f":-0.16},{"w":9192,"f":0.08},{"w":9196,"f":0.06},{"w":9200,"f":-0.27},{"w":9204,"f":-0.33},{"w":9207,"f":-0.19},{"w":9211,"f":-0.06},{"w":9215,"f":0.19},{"w":9219,"f":0.14},{"w":9223,"f":0.1},{"w":9227,"f":-0.33},{"w":9231,"f":-0.06},{"w":9235,"f":-0.19},{"w":9239,"f":-0.47},{"w":9243,"f":0.13},{"w":9247,"f":-0.35},{"w":9250,"f":-0.17},{"w":9254,"f":-0.32},{"w":9258,"f":-0.19},{"w":9262,"f":0.08},{"w":9266,"f":0.14},{"w":9270,"f":0.12},{"w":9274,"f":-0.04},{"w":9278,"f":0.14},{"w":9282,"f":0.17},{"w":9286,"f":0.19},{"w":9290,"f":-0.04},{"w":9294,"f":-0.3},{"w":9298,"f":0}
    ]
  },
  "encoding": {
    "x": {
      "field": "w",
      "type": "quantitative",
      "scale": {"domain": [4750, 9300], "nice": false, "zero": false},
      "axis": {
        "title": "Wavelength",
        "values": [5000, 6000, 7000, 8000, 9000],
        "format": "d",
        "labelFontSize": 28,
        "titleFontSize": 34,
        "titlePadding": 6
      }
    },
    "y": {
      "field": "f",
      "type": "quantitative",
      "scale": {"domain": [-1.404, 1.766], "nice": false, "zero": false},
      "axis": {
        "title": "10⁻¹⁸ erg s⁻¹ cm⁻² Å⁻¹",
        "values": [-1, -0.5, 0, 0.5, 1, 1.5],
        "format": ".1f",
        "labelFontSize": 34,
        "titleFontSize": 46,
        "titleX": -159,
        "titleY": 346.5,
        "titleAlign": "center",
        "titleBaseline": "middle",
        "titleAngle": -90
      }
    }
  },
  "layer": [
    {
      "data": {"name": "noise"},
      "mark": {"type": "line", "color": "#008000", "strokeWidth": 1.4, "strokeJoin": "round", "clip": true}
    },
    {
      "data": {"name": "zero"},
      "mark": {"type": "line", "color": "#0000ff", "strokeWidth": 5, "clip": true}
    },
    {
      "data": {"name": "flux"},
      "mark": {"type": "line", "color": "#000000", "strokeWidth": 4, "strokeJoin": "round", "clip": true}
    }
  ]
}
